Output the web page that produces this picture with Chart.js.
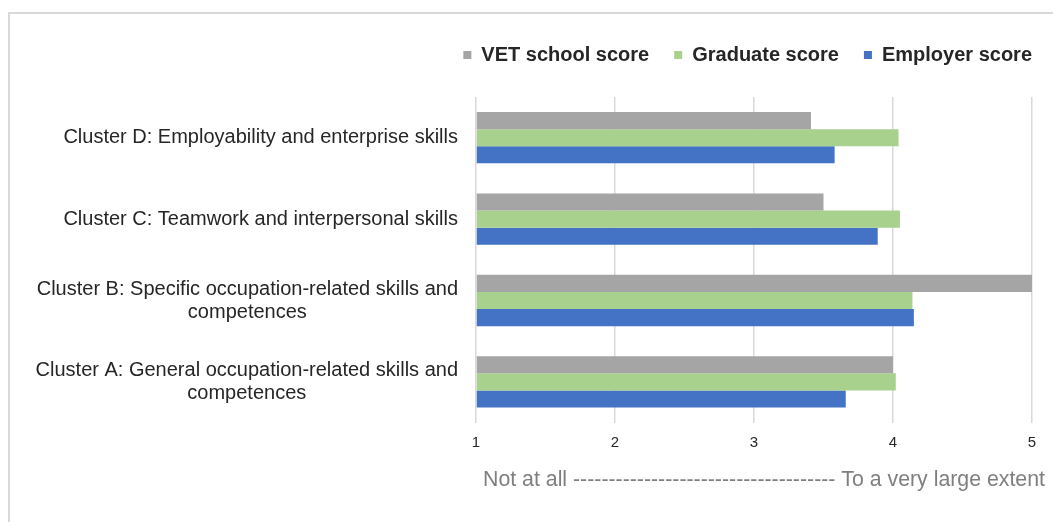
<!DOCTYPE html>
<html>
<head>
<meta charset="utf-8">
<script src="https://cdn.jsdelivr.net/npm/chart.js@4"></script>
<style>
  html, body { margin: 0; padding: 0; background: #fff; overflow: hidden; }
  #frame { position: absolute; left: 8px; top: 12px; width: 1100px; height: 600px; border: 2px solid #d9d9d9; }
  #wrap { position: absolute; left: 0; top: 0; width: 1053px; height: 522px; }
</style>
</head>
<body>
<div id="frame"></div>
<div id="wrap"><canvas id="skillsChart"></canvas></div>
<script>
// categories, top to bottom
const clusters = [
    ['Cluster D: Employability and enterprise skills'],
    ['Cluster C: Teamwork and interpersonal skills'],
    ['Cluster B: Specific occupation-related skills and', 'competences'],
    ['Cluster A: General occupation-related skills and', 'competences']
];

const vetScores = [3.41, 3.50, 5.00, 4.00];
const graduateScores = [4.04, 4.05, 4.14, 4.02];
const employerScores = [3.58, 3.89, 4.15, 3.66];

const scaleTicks = [1, 2, 3, 4, 5];
const scaleCaption = 'Not at all ' + '-'.repeat(37) + ' To a very large extent';

const fontFamily = '"Liberation Sans", Arial, sans-serif';
const labelFont = '20px ' + fontFamily;
const captionFont = '21.3px ' + fontFamily;

// draws the category labels (block right aligned, lines centred in the block)
// and the scale caption, which runs a little wider than the plot
const customText = {
    id: 'customText',
    afterDraw(chart) {
        const c = chart.ctx;
        const area = chart.chartArea;
        const yScale = chart.scales.y;
        const xScale = chart.scales.x;
        const right = area.left - 18;
        const lineH = 23;
        c.save();
        c.font = labelFont;
        c.fillStyle = '#262626';
        c.textAlign = 'center';
        c.textBaseline = 'middle';
        clusters.forEach((lines, i) => {
            const w = Math.max(...lines.map(l => c.measureText(l).width));
            const cx = right - w / 2;
            const cy = yScale.getPixelForTick(i);
            lines.forEach((l, j) => {
                c.fillText(l, cx, cy + (j - (lines.length - 1) / 2) * lineH);
            });
        });
        c.font = captionFont;
        c.fillStyle = '#7f7f7f';
        c.fillText(scaleCaption, (area.left + area.right) / 2 + 10, xScale.bottom - 6 - 11);
        c.restore();
    }
};

// extra room under the legend, and let it run to the plot's right edge
const legendSpace = {
    id: 'legendSpace',
    beforeInit(chart) {
        const fit = chart.legend.fit;
        chart.legend.fit = function () {
            fit.bind(chart.legend)();
            this.height += 22;
        };
    },
    afterLayout(chart) {
        chart.legend.right += 25;
        chart.legend.width += 25;
    }
};

const ctx = document.getElementById('skillsChart').getContext('2d');

new Chart(ctx, {
    type: 'bar',
    data: {
        labels: clusters,
        datasets: [{
            label: 'VET school score',
            data: vetScores,
            backgroundColor: '#a5a5a5'
        }, {
            label: 'Graduate score',
            data: graduateScores,
            backgroundColor: '#a9d18e'
        }, {
            label: 'Employer score',
            data: employerScores,
            backgroundColor: '#4472c4'
        }]
    },
    options: {
        indexAxis: 'y',
        responsive: true,
        maintainAspectRatio: false,
        animation: false,
        base: 1,
        categoryPercentage: 0.63,
        barPercentage: 1,
        layout: {
            padding: { top: 20, left: 10, right: 21, bottom: 25 }
        },
        scales: {
            x: {
                min: 1,
                max: 5,
                afterBuildTicks(axis) {
                    axis.ticks = scaleTicks.map(v => ({ value: v }));
                },
                grid: { color: '#d9d9d9', lineWidth: 1.5, drawTicks: false },
                border: { display: false },
                ticks: {
                    padding: 11,
                    color: '#262626',
                    font: { family: fontFamily, size: 15 }
                },
                title: {
                    // space is kept here, the caption itself is drawn by customText
                    display: true,
                    text: ' ',
                    padding: { top: 2, bottom: 6 },
                    font: { family: fontFamily, size: 22 }
                }
            },
            y: {
                grid: { display: false, drawTicks: false },
                border: { display: false },
                ticks: { display: false },
                afterFit(axis) {
                    axis.width = 466;
                }
            }
        },
        plugins: {
            legend: {
                position: 'top',
                align: 'end',
                labels: {
                    boxWidth: 8,
                    boxHeight: 8,
                    padding: 25,
                    color: '#262626',
                    font: { family: fontFamily, size: 20, weight: 'bold' }
                }
            },
            tooltip: { enabled: false }
        }
    },
    plugins: [customText, legendSpace]
});
</script>
</body>
</html>
